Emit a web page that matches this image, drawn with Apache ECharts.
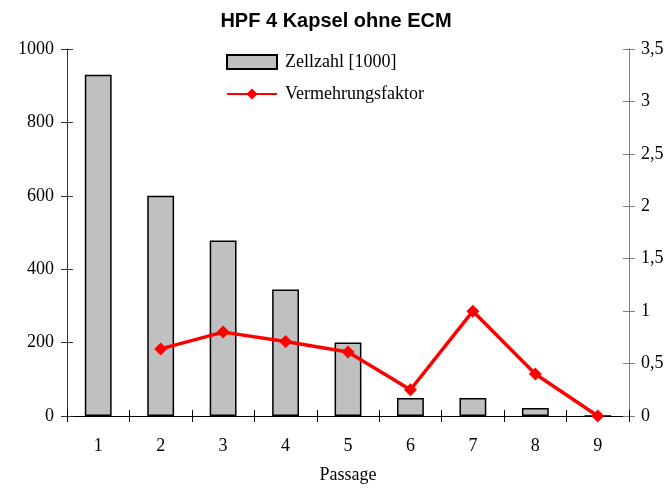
<!DOCTYPE html>
<html>
<head>
<meta charset="utf-8">
<script src="https://cdn.jsdelivr.net/npm/echarts@6/dist/echarts.min.js"></script>
<style>
  html, body { margin: 0; padding: 0; background: #fff; }
  #chart { width: 672px; height: 490px; }
</style>
</head>
<body>
<div id="chart"></div>
<script>
// Passage (x-Achse)
const passagen = ["1", "2", "3", "4", "5", "6", "7", "8", "9"];
// Zellzahl [1000] - Balken
const zellzahl = [930, 600, 478, 345, 200, 49, 49, 22, 0];
// Vermehrungsfaktor - Linie (rechte Achse)
const faktor = [null, 0.64, 0.80, 0.71, 0.61, 0.25, 1.0, 0.40, 0];

const serif = "'Liberation Serif', 'DejaVu Serif', serif";
const komma = v => String(v).replace(".", ",");
const ohneTausender = v => String(v);

const chart = echarts.init(document.getElementById("chart"));

chart.setOption({
  animation: false,
  backgroundColor: "#fff",
  title: {
    text: "HPF 4 Kapsel ohne ECM",
    left: "center",
    top: 6,
    textStyle: { fontFamily: "'Liberation Sans', Arial, sans-serif", fontWeight: "bold", fontSize: 20, color: "#000" }
  },
  legend: {
    orient: "vertical",
    left: 221,
    top: 48,
    itemWidth: 50,
    itemHeight: 14,
    itemGap: 14,
    textStyle: { fontFamily: serif, fontSize: 18, color: "#000", padding: [0, 0, 0, 3] },
    data: [
      { name: "Zellzahl [1000]", icon: "rect" },
      { name: "Vermehrungsfaktor" }
    ]
  },
  grid: { left: 67, right: 43, top: 49, bottom: 74 },
  xAxis: [
    {
      type: "category",
      data: passagen,
      name: "Passage",
      nameLocation: "middle",
      nameGap: 50,
      nameTextStyle: { fontFamily: serif, fontSize: 18, color: "#000" },
      axisLine: { lineStyle: { color: "#000", width: 1 } },
      axisTick: { show: true, length: 6, lineStyle: { color: "#000" } },
      axisLabel: { fontFamily: serif, fontSize: 18, color: "#000", margin: 21 },
      splitLine: { show: false }
    },
    {
      // nur für die nach innen zeigenden Striche
      type: "category",
      data: passagen,
      position: "bottom",
      axisLine: { show: false },
      axisTick: { show: true, inside: true, length: 6, lineStyle: { color: "#000" } },
      axisLabel: { show: false }
    }
  ],
  yAxis: [
    {
      type: "value",
      min: 0,
      max: 1000,
      interval: 200,
      axisLine: { show: true, lineStyle: { color: "#333" } },
      axisTick: { show: true, length: 6, lineStyle: { color: "#333" } },
      axisLabel: { fontFamily: serif, fontSize: 18, color: "#000", margin: 13, formatter: ohneTausender },
      splitLine: { show: false }
    },
    {
      type: "value",
      min: 0,
      max: 3.5,
      interval: 0.5,
      position: "right",
      axisLine: { show: true, lineStyle: { color: "#808080" } },
      axisTick: { show: true, length: 6, lineStyle: { color: "#808080" } },
      axisLabel: { fontFamily: serif, fontSize: 18, color: "#000", margin: 12, formatter: komma },
      splitLine: { show: false }
    },
    {
      type: "value",
      min: 0,
      max: 1000,
      interval: 200,
      position: "left",
      axisLine: { show: false },
      axisTick: { show: true, inside: true, length: 6, lineStyle: { color: "#333" } },
      axisLabel: { show: false },
      splitLine: { show: false }
    },
    {
      type: "value",
      min: 0,
      max: 3.5,
      interval: 0.5,
      position: "right",
      axisLine: { show: false },
      axisTick: { show: true, inside: true, length: 6, lineStyle: { color: "#808080" } },
      axisLabel: { show: false },
      splitLine: { show: false }
    }
  ],
  series: [
    {
      name: "Zellzahl [1000]",
      type: "bar",
      xAxisIndex: 0,
      yAxisIndex: 0,
      data: zellzahl,
      barWidth: "43%",
      itemStyle: { color: "#c0c0c0", borderColor: "#000", borderWidth: 1.5 }
    },
    {
      name: "Vermehrungsfaktor",
      type: "line",
      xAxisIndex: 0,
      yAxisIndex: 1,
      data: faktor,
      symbol: "diamond",
      symbolSize: 13,
      lineStyle: { color: "#ff0000", width: 3.5 },
      itemStyle: { color: "#ff0000" },
      z: 5
    }
  ]
});
</script>
</body>
</html>
